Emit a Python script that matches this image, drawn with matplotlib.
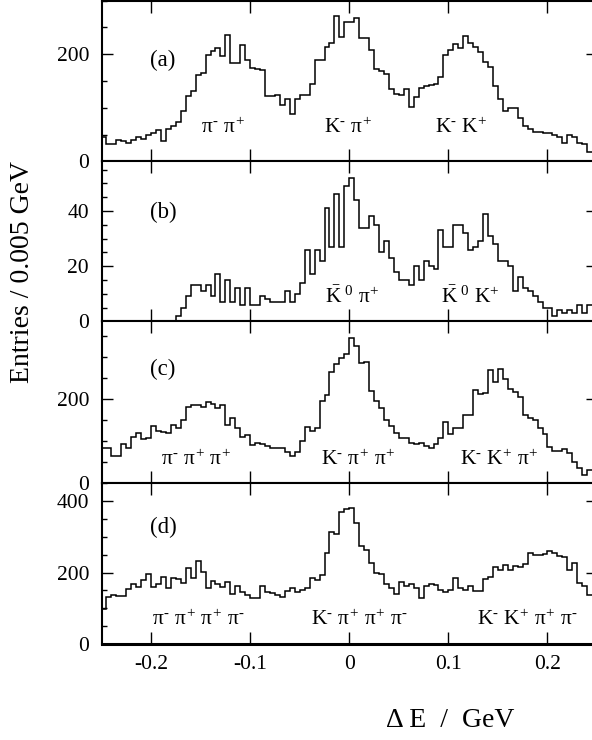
import numpy as np
import matplotlib
matplotlib.use("Agg")
import matplotlib.pyplot as plt
from matplotlib.ticker import MultipleLocator

plt.rcParams['font.family'] = ['Liberation Serif', 'DejaVu Serif']
plt.rcParams['mathtext.fontset'] = 'custom'
plt.rcParams['mathtext.rm'] = 'Liberation Serif'
plt.rcParams['mathtext.it'] = 'Liberation Serif'
plt.rcParams['mathtext.bf'] = 'Liberation Serif'

# bin edges: 100 bins of 0.005 GeV from -0.25 to 0.25
edges = np.linspace(-0.25, 0.25, 101)

# (a) pi pi / K pi / K K
counts_a = [46, 32, 32, 39, 37, 35, 40, 46, 41, 49,
            52, 58, 38, 61, 65, 74, 93, 122, 132, 161,
            165, 198, 206, 211, 197, 235, 184, 184, 217, 189,
            175, 173, 170, 122, 122, 124, 105, 116, 89, 116,
            124, 124, 145, 189, 189, 214, 220, 271, 232, 260,
            260, 268, 230, 230, 207, 173, 169, 163, 134, 125,
            124, 134, 101, 120, 137, 140, 142, 144, 158, 198,
            207, 218, 211, 234, 220, 214, 204, 186, 176, 140,
            117, 94, 99, 99, 80, 65, 61, 55, 54, 53,
            52, 50, 46, 34, 49, 46, 34, 32, 18, 18]

# (b) K0bar pi / K0bar K
counts_b = [0, 0, 0, 0, 0, 0, 0, 0, 0, 0,
            0, 0, 0, 0, 0, 2, 5, 9, 13, 13,
            11, 13, 9, 17, 7, 15, 7, 12, 6, 12,
            6, 6, 9, 8, 7, 7, 7, 11, 7, 10,
            14, 26, 17, 26, 22, 41, 27, 46, 27, 49,
            52, 44, 34, 34, 38, 35, 25, 29, 23, 18,
            15, 15, 13, 20, 15, 22, 20, 19, 33, 27,
            27, 35, 35, 32, 26, 27, 29, 39, 31, 28,
            22, 22, 20, 11, 16, 12, 11, 9, 7, 5,
            5, 2, 4, 3, 4, 3, 6, 3, 6, 6]

# (c) pi pi pi / K pi pi / K K pi
counts_c = [84, 84, 65, 65, 92, 84, 110, 120, 104, 108,
            135, 124, 122, 118, 138, 132, 150, 180, 186, 186,
            180, 194, 188, 178, 186, 139, 155, 130, 110, 114,
            90, 96, 92, 88, 84, 82, 84, 74, 64, 74,
            100, 134, 124, 131, 195, 210, 265, 285, 299, 307,
            347, 327, 287, 289, 219, 195, 178, 150, 135, 120,
            108, 106, 94, 92, 96, 88, 82, 92, 108, 146,
            116, 130, 131, 162, 162, 222, 212, 215, 269, 241,
            273, 247, 225, 217, 206, 162, 154, 151, 132, 116,
            86, 76, 76, 80, 70, 50, 34, 18, 30, 30]

# (d) pi pi pi pi / K pi pi pi / K K pi pi
counts_d = [97, 131, 137, 135, 135, 153, 167, 161, 179, 195,
            159, 168, 189, 156, 186, 182, 170, 214, 184, 234,
            203, 156, 177, 168, 159, 175, 140, 163, 147, 137,
            128, 128, 163, 147, 144, 137, 131, 149, 158, 147,
            151, 156, 186, 179, 193, 254, 315, 307, 369, 378,
            382, 338, 275, 264, 226, 200, 195, 168, 156, 140,
            175, 163, 168, 156, 130, 163, 167, 165, 151, 145,
            151, 184, 156, 151, 163, 149, 149, 182, 189, 215,
            207, 221, 207, 219, 215, 224, 256, 249, 249, 252,
            261, 256, 247, 243, 207, 228, 172, 163, 137, 137]

panel_tags = ['(a)', '(b)', '(c)', '(d)']
panel_ymax = [300, 58, 386, 452]
panel_major = [200, 20, 200, 200]
panel_minor = [50, 5, 50, 50]
tag_ypos = [0.63, 0.68, 0.70, 0.72]

# short hyphen-like charge signs as in the original
M = r'{\text{-}}'
labels_a = [r'$\pi^%s\ \pi^{+}$' % M, r'$\mathrm{K}^%s\ \pi^{+}$' % M,
            r'$\mathrm{K}^%s\ \mathrm{K}^{+}$' % M]
labels_b = [r'$\bar{\mathrm{K}}^{\ 0}\ \pi^{+}$', r'$\bar{\mathrm{K}}^{\ 0}\ \mathrm{K}^{+}$']
labels_c = [r'$\pi^%s\ \pi^{+}\ \pi^{+}$' % M, r'$\mathrm{K}^%s\ \pi^{+}\ \pi^{+}$' % M,
            r'$\mathrm{K}^%s\ \mathrm{K}^{+}\ \pi^{+}$' % M]
labels_d = [r'$\pi^%s\ \pi^{+}\ \pi^{+}\ \pi^%s$' % (M, M),
            r'$\mathrm{K}^%s\ \pi^{+}\ \pi^{+}\ \pi^%s$' % (M, M),
            r'$\mathrm{K}^%s\ \mathrm{K}^{+}\ \pi^{+}\ \pi^%s$' % (M, M)]
label_x = [[-0.127, -0.001, 0.113], [0.003, 0.122],
           [-0.154, 0.009, 0.151], [-0.152, 0.010, 0.180]]
label_y = [0.21, 0.15, 0.14, 0.15]

fig = plt.figure(figsize=(5.92, 7.4), dpi=100)

# panel boxes in figure fraction (left, bottom, width, height)
left, width = 0.1715, 0.837
boxes = [(0.782, 0.2173), (0.5658, 0.2162), (0.3477, 0.2181), (0.1297, 0.218)]

all_counts = [counts_a, counts_b, counts_c, counts_d]
all_labels = [labels_a, labels_b, labels_c, labels_d]
fs = 15.5

for i in range(4):
    bottom, height = boxes[i]
    ax = fig.add_axes([left, bottom, width, height])
    ax.stairs(all_counts[i], edges, color='black', linewidth=1.1)
    ax.set_xlim(-0.25, 0.25)
    ax.set_ylim(0, panel_ymax[i])
    ax.xaxis.set_major_locator(MultipleLocator(0.1))
    ax.yaxis.set_major_locator(MultipleLocator(panel_major[i]))
    ax.yaxis.set_minor_locator(MultipleLocator(panel_minor[i]))
    ax.tick_params(which='both', direction='in', top=True, right=True,
                   labelsize=fs, width=1.0)
    ax.tick_params(axis='x', which='major', length=8.5, pad=8)
    ax.tick_params(axis='y', which='major', length=8, pad=9)
    ax.tick_params(axis='y', which='minor', length=3.5)
    for s in ax.spines.values():
        s.set_linewidth(1.5)
    ax.spines['bottom'].set_linewidth(2.2)
    if i < 3:
        ax.set_xticklabels([])
    else:
        ax.set_xticks([-0.2, -0.1, 0, 0.1, 0.2])
        ax.set_xticklabels(['-0.2', '-0.1', '0', '0.1', '0.2'])
    ax.text(0.098, tag_ypos[i], panel_tags[i], transform=ax.transAxes,
            fontsize=16.5, va='center', ha='left')
    for lx, lab in zip(label_x[i], all_labels[i]):
        ax.text(lx, label_y[i], lab, transform=ax.get_xaxis_transform(),
                fontsize=15.5, ha='center', va='center')

fig.text(0.038, 0.633, 'Entries / 0.005 GeV', rotation=90, fontsize=20,
         ha='center', va='center')
fig.text(0.76, 0.027, '\u0394 E  /  GeV', fontsize=20,
         ha='center', va='center')

fig.savefig('out.png', dpi=100)
